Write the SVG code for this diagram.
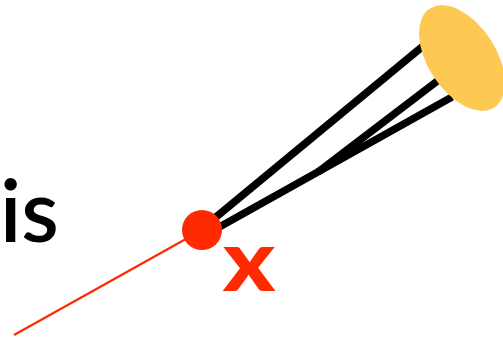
<svg xmlns="http://www.w3.org/2000/svg" width="503" height="339" viewBox="0 0 503 339">
<style>
.blk{stroke:#000;stroke-width:7.5;stroke-linecap:butt;fill:none}
.red{fill:#ff2a00}
</style>
<rect width="503" height="339" fill="#fff"/>
<g id="label-is"><text x="0" y="242" font-family="Lato, 'Open Sans', sans-serif" font-size="86" font-weight="600" fill="#000">is</text></g>
<g id="connectors">
<line x1="14" y1="335" x2="202" y2="230" stroke="#ff2a00" stroke-width="2.2"/>
<line class="blk" x1="210" y1="222" x2="428" y2="42"/>
<line class="blk" x1="214" y1="230" x2="452" y2="97"/>
<line class="blk" x1="318" y1="172" x2="440" y2="79"/>
</g>
<g id="ellipse"><ellipse cx="462" cy="58" rx="59" ry="34" transform="rotate(57 462 58)" fill="#fec953"/></g>
<g id="dot"><circle class="red" cx="202" cy="230" r="20"/></g>
<g id="label-x"><text x="0" y="0" transform="translate(249 291) scale(1.15 1)" text-anchor="middle" font-family="Lato, sans-serif" font-size="86" font-weight="900" class="red">x</text></g>
</svg>
